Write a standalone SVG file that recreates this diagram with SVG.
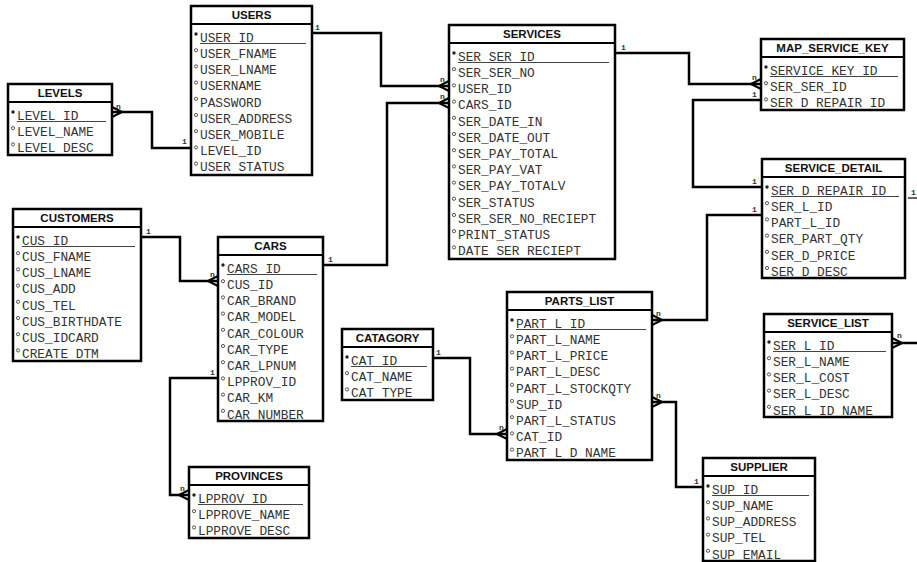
<svg xmlns="http://www.w3.org/2000/svg" width="917" height="562" viewBox="0 0 917 562">
<defs>
<style>
.box{fill:#fff;stroke:#000;stroke-width:2.5}
.hd{stroke:#000;stroke-width:2}
.t{font-family:"Liberation Sans",Arial,sans-serif;font-weight:bold;font-size:11.5px;fill:#111;text-anchor:middle}
.r{font-family:"Liberation Mono","Courier New",monospace;font-size:12.8px;fill:#333}
.ul{stroke:#444;stroke-width:1}
.pk{fill:#222}
.fk{fill:none;stroke:#444;stroke-width:0.9}
.c{fill:none;stroke:#000;stroke-width:2.5}
.cf{fill:none;stroke:#000;stroke-width:2}
.thin{fill:none;stroke:#000;stroke-width:1.2}
.l{font-family:"Liberation Mono","Courier New",monospace;font-size:8px;font-weight:bold;fill:#333}
</style>
</defs>
<rect width="917" height="562" fill="#fff"/>

<g id="connectors">
<path class="c" d="M112,112 H152 V148 H191"/>
<path class="cf" d="M112,107 L122,112 M112,117 L122,112 M112,112 H122"/>
<text class="l" x="116" y="109">n</text>
<text class="l" x="182" y="144">1</text>

<path class="c" d="M312,33 H381 V86 H449"/>
<path class="cf" d="M449,81 L439,86 M449,91 L439,86"/>
<text class="l" x="315" y="30">1</text>
<text class="l" x="440" y="82">n</text>

<path class="c" d="M323,265 H387 V103 H449"/>
<path class="cf" d="M449,98 L439,103 M449,108 L439,103"/>
<text class="l" x="328" y="262">1</text>
<text class="l" x="440" y="99">n</text>

<path class="c" d="M615,53 H689 V84 H761"/>
<path class="cf" d="M761,79 L751,84 M761,89 L751,84"/>
<text class="l" x="621" y="50">1</text>
<text class="l" x="752" y="80">n</text>

<path class="c" d="M761,100 H693 V187 H762"/>
<text class="l" x="752" y="97">1</text>
<text class="l" x="752" y="184">1</text>

<path class="c" d="M762,215 H707 V320 H652"/>
<path class="cf" d="M652,315 L662,320 M652,325 L662,320"/>
<text class="l" x="752" y="212">1</text>
<text class="l" x="656" y="316">n</text>

<path class="thin" d="M908,198 H917"/>
<text class="l" x="911" y="195">1</text>

<path class="c" d="M892,343 H917"/>
<path class="cf" d="M892,338 L902,343 M892,348 L902,343"/>
<text class="l" x="897" y="338">n</text>

<path class="c" d="M652,402 H676 V487 H703"/>
<path class="cf" d="M652,397 L662,402 M652,407 L662,402"/>
<text class="l" x="656" y="398">n</text>
<text class="l" x="694" y="484">1</text>

<path class="c" d="M433,358 H470 V434 H507"/>
<path class="cf" d="M507,429 L497,434 M507,439 L497,434"/>
<text class="l" x="436" y="355">1</text>
<text class="l" x="499" y="430">n</text>

<path class="c" d="M141,237 H180 V281 H218"/>
<path class="cf" d="M218,276 L208,281 M218,286 L208,281"/>
<text class="l" x="146" y="234">1</text>
<text class="l" x="210" y="277">n</text>

<path class="c" d="M218,378 H170 V495 H189"/>
<path class="cf" d="M189,490 L179,495 M189,500 L179,495"/>
<text class="l" x="210" y="375">1</text>
<text class="l" x="180" y="491">n</text>
</g>

<g id="USERS">
<rect class="box" x="191" y="6" width="121" height="169"/>
<line class="hd" x1="191" y1="24" x2="312" y2="24"/>
<text class="t" x="251.5" y="19">USERS</text>
<circle class="pk" cx="196" cy="34" r="1.7"/>
<text class="r" x="200" y="41.8">USER_ID</text>
<line class="ul" x1="200" y1="43.5" x2="306" y2="43.5"/>
<circle class="fk" cx="196" cy="50.2" r="1.6"/><text class="r" x="200" y="58">USER_FNAME</text>
<circle class="fk" cx="196" cy="66.4" r="1.6"/><text class="r" x="200" y="74.2">USER_LNAME</text>
<circle class="fk" cx="196" cy="82.6" r="1.6"/><text class="r" x="200" y="90.4">USERNAME</text>
<circle class="fk" cx="196" cy="98.8" r="1.6"/><text class="r" x="200" y="106.6">PASSWORD</text>
<circle class="fk" cx="196" cy="115" r="1.6"/><text class="r" x="200" y="122.8">USER_ADDRESS</text>
<circle class="fk" cx="196" cy="131.2" r="1.6"/><text class="r" x="200" y="139">USER_MOBILE</text>
<circle class="fk" cx="196" cy="147.4" r="1.6"/><text class="r" x="200" y="155.2">LEVEL_ID</text>
<circle class="fk" cx="196" cy="163.6" r="1.6"/><text class="r" x="200" y="171.4">USER STATUS</text>
</g>

<g id="LEVELS">
<rect class="box" x="8" y="84" width="104" height="71"/>
<line class="hd" x1="8" y1="102" x2="112" y2="102"/>
<text class="t" x="60" y="97">LEVELS</text>
<circle class="pk" cx="13" cy="112" r="1.7"/>
<text class="r" x="17" y="119.8">LEVEL_ID</text>
<line class="ul" x1="17" y1="121.5" x2="106" y2="121.5"/>
<circle class="fk" cx="13" cy="128.2" r="1.6"/><text class="r" x="17" y="136">LEVEL_NAME</text>
<circle class="fk" cx="13" cy="144.4" r="1.6"/><text class="r" x="17" y="152.2">LEVEL DESC</text>
</g>

<g id="SERVICES">
<rect class="box" x="449" y="25" width="166" height="234"/>
<line class="hd" x1="449" y1="43" x2="615" y2="43"/>
<text class="t" x="532" y="38">SERVICES</text>
<circle class="pk" cx="454" cy="53" r="1.7"/>
<text class="r" x="458" y="60.8">SER_SER_ID</text>
<line class="ul" x1="458" y1="62.5" x2="609" y2="62.5"/>
<circle class="fk" cx="454" cy="69.2" r="1.6"/><text class="r" x="458" y="77">SER_SER_NO</text>
<circle class="fk" cx="454" cy="85.4" r="1.6"/><text class="r" x="458" y="93.2">USER_ID</text>
<circle class="fk" cx="454" cy="101.6" r="1.6"/><text class="r" x="458" y="109.4">CARS_ID</text>
<circle class="fk" cx="454" cy="117.8" r="1.6"/><text class="r" x="458" y="125.6">SER_DATE_IN</text>
<circle class="fk" cx="454" cy="134" r="1.6"/><text class="r" x="458" y="141.8">SER_DATE_OUT</text>
<circle class="fk" cx="454" cy="150.2" r="1.6"/><text class="r" x="458" y="158">SER_PAY_TOTAL</text>
<circle class="fk" cx="454" cy="166.4" r="1.6"/><text class="r" x="458" y="174.2">SER_PAY_VAT</text>
<circle class="fk" cx="454" cy="182.6" r="1.6"/><text class="r" x="458" y="190.4">SER_PAY_TOTALV</text>
<circle class="fk" cx="454" cy="198.8" r="1.6"/><text class="r" x="458" y="206.6">SER_STATUS</text>
<circle class="fk" cx="454" cy="215" r="1.6"/><text class="r" x="458" y="222.8">SER_SER_NO_RECIEPT</text>
<circle class="fk" cx="454" cy="231.2" r="1.6"/><text class="r" x="458" y="239">PRINT_STATUS</text>
<circle class="fk" cx="454" cy="247.4" r="1.6"/><text class="r" x="458" y="255.2">DATE SER RECIEPT</text>
</g>

<g id="MAP_SERVICE_KEY">
<rect class="box" x="761" y="39" width="143" height="71"/>
<line class="hd" x1="761" y1="57" x2="904" y2="57"/>
<text class="t" x="832.5" y="52">MAP_SERVICE_KEY</text>
<circle class="pk" cx="766" cy="67" r="1.7"/>
<text class="r" x="770" y="74.8">SERVICE_KEY_ID</text>
<line class="ul" x1="770" y1="76.5" x2="898" y2="76.5"/>
<circle class="fk" cx="766" cy="83.2" r="1.6"/><text class="r" x="770" y="91">SER_SER_ID</text>
<circle class="fk" cx="766" cy="99.4" r="1.6"/><text class="r" x="770" y="107.2">SER D REPAIR ID</text>
</g>

<g id="SERVICE_DETAIL">
<rect class="box" x="762" y="159" width="143" height="119"/>
<line class="hd" x1="762" y1="177" x2="905" y2="177"/>
<text class="t" x="833.5" y="172">SERVICE_DETAIL</text>
<circle class="pk" cx="767" cy="187" r="1.7"/>
<text class="r" x="771" y="194.8">SER_D_REPAIR_ID</text>
<line class="ul" x1="771" y1="196.5" x2="899" y2="196.5"/>
<circle class="fk" cx="767" cy="203.2" r="1.6"/><text class="r" x="771" y="211">SER_L_ID</text>
<circle class="fk" cx="767" cy="219.4" r="1.6"/><text class="r" x="771" y="227.2">PART_L_ID</text>
<circle class="fk" cx="767" cy="235.6" r="1.6"/><text class="r" x="771" y="243.4">SER_PART_QTY</text>
<circle class="fk" cx="767" cy="251.8" r="1.6"/><text class="r" x="771" y="259.6">SER_D_PRICE</text>
<circle class="fk" cx="767" cy="268" r="1.6"/><text class="r" x="771" y="275.8">SER D DESC</text>
</g>

<g id="CUSTOMERS">
<rect class="box" x="13" y="209" width="128" height="152"/>
<line class="hd" x1="13" y1="227" x2="141" y2="227"/>
<text class="t" x="77" y="222">CUSTOMERS</text>
<circle class="pk" cx="18" cy="237" r="1.7"/>
<text class="r" x="22" y="244.8">CUS_ID</text>
<line class="ul" x1="22" y1="246.5" x2="135" y2="246.5"/>
<circle class="fk" cx="18" cy="253.2" r="1.6"/><text class="r" x="22" y="261">CUS_FNAME</text>
<circle class="fk" cx="18" cy="269.4" r="1.6"/><text class="r" x="22" y="277.2">CUS_LNAME</text>
<circle class="fk" cx="18" cy="285.6" r="1.6"/><text class="r" x="22" y="293.4">CUS_ADD</text>
<circle class="fk" cx="18" cy="301.8" r="1.6"/><text class="r" x="22" y="309.6">CUS_TEL</text>
<circle class="fk" cx="18" cy="318" r="1.6"/><text class="r" x="22" y="325.8">CUS_BIRTHDATE</text>
<circle class="fk" cx="18" cy="334.2" r="1.6"/><text class="r" x="22" y="342">CUS_IDCARD</text>
<circle class="fk" cx="18" cy="350.4" r="1.6"/><text class="r" x="22" y="358.2">CREATE DTM</text>
</g>

<g id="CARS">
<rect class="box" x="218" y="237" width="105" height="184"/>
<line class="hd" x1="218" y1="255" x2="323" y2="255"/>
<text class="t" x="270.5" y="250">CARS</text>
<circle class="pk" cx="223" cy="265" r="1.7"/>
<text class="r" x="227" y="272.8">CARS_ID</text>
<line class="ul" x1="227" y1="274.5" x2="317" y2="274.5"/>
<circle class="fk" cx="223" cy="281.2" r="1.6"/><text class="r" x="227" y="289">CUS_ID</text>
<circle class="fk" cx="223" cy="297.4" r="1.6"/><text class="r" x="227" y="305.2">CAR_BRAND</text>
<circle class="fk" cx="223" cy="313.6" r="1.6"/><text class="r" x="227" y="321.4">CAR_MODEL</text>
<circle class="fk" cx="223" cy="329.8" r="1.6"/><text class="r" x="227" y="337.6">CAR_COLOUR</text>
<circle class="fk" cx="223" cy="346" r="1.6"/><text class="r" x="227" y="353.8">CAR_TYPE</text>
<circle class="fk" cx="223" cy="362.2" r="1.6"/><text class="r" x="227" y="370">CAR_LPNUM</text>
<circle class="fk" cx="223" cy="378.4" r="1.6"/><text class="r" x="227" y="386.2">LPPROV_ID</text>
<circle class="fk" cx="223" cy="394.6" r="1.6"/><text class="r" x="227" y="402.4">CAR_KM</text>
<circle class="fk" cx="223" cy="410.8" r="1.6"/><text class="r" x="227" y="418.6">CAR NUMBER</text>
</g>

<g id="PROVINCES">
<rect class="box" x="189" y="467" width="120" height="71"/>
<line class="hd" x1="189" y1="485" x2="309" y2="485"/>
<text class="t" x="249" y="480">PROVINCES</text>
<circle class="pk" cx="194" cy="495" r="1.7"/>
<text class="r" x="198" y="502.8">LPPROV_ID</text>
<line class="ul" x1="198" y1="504.5" x2="303" y2="504.5"/>
<circle class="fk" cx="194" cy="511.2" r="1.6"/><text class="r" x="198" y="519">LPPROVE_NAME</text>
<circle class="fk" cx="194" cy="527.4" r="1.6"/><text class="r" x="198" y="535.2">LPPROVE DESC</text>
</g>

<g id="CATAGORY">
<rect class="box" x="342" y="329" width="91" height="71"/>
<line class="hd" x1="342" y1="347" x2="433" y2="347"/>
<text class="t" x="387.5" y="342">CATAGORY</text>
<circle class="pk" cx="347" cy="357" r="1.7"/>
<text class="r" x="351" y="364.8">CAT_ID</text>
<line class="ul" x1="351" y1="366.5" x2="427" y2="366.5"/>
<circle class="fk" cx="347" cy="373.2" r="1.6"/><text class="r" x="351" y="381">CAT_NAME</text>
<circle class="fk" cx="347" cy="389.4" r="1.6"/><text class="r" x="351" y="397.2">CAT TYPE</text>
</g>

<g id="PARTS_LIST">
<rect class="box" x="507" y="292" width="145" height="168"/>
<line class="hd" x1="507" y1="310" x2="652" y2="310"/>
<text class="t" x="579.5" y="305">PARTS_LIST</text>
<circle class="pk" cx="512" cy="320" r="1.7"/>
<text class="r" x="516" y="327.8">PART_L_ID</text>
<line class="ul" x1="516" y1="329.5" x2="646" y2="329.5"/>
<circle class="fk" cx="512" cy="336.2" r="1.6"/><text class="r" x="516" y="344">PART_L_NAME</text>
<circle class="fk" cx="512" cy="352.4" r="1.6"/><text class="r" x="516" y="360.2">PART_L_PRICE</text>
<circle class="fk" cx="512" cy="368.6" r="1.6"/><text class="r" x="516" y="376.4">PART_L_DESC</text>
<circle class="fk" cx="512" cy="384.8" r="1.6"/><text class="r" x="516" y="392.6">PART_L_STOCKQTY</text>
<circle class="fk" cx="512" cy="401" r="1.6"/><text class="r" x="516" y="408.8">SUP_ID</text>
<circle class="fk" cx="512" cy="417.2" r="1.6"/><text class="r" x="516" y="425">PART_L_STATUS</text>
<circle class="fk" cx="512" cy="433.4" r="1.6"/><text class="r" x="516" y="441.2">CAT_ID</text>
<circle class="fk" cx="512" cy="449.6" r="1.6"/><text class="r" x="516" y="457.4">PART L D NAME</text>
</g>

<g id="SERVICE_LIST">
<rect class="box" x="764" y="314" width="128" height="103"/>
<line class="hd" x1="764" y1="332" x2="892" y2="332"/>
<text class="t" x="828" y="327">SERVICE_LIST</text>
<circle class="pk" cx="769" cy="342" r="1.7"/>
<text class="r" x="773" y="349.8">SER_L_ID</text>
<line class="ul" x1="773" y1="351.5" x2="886" y2="351.5"/>
<circle class="fk" cx="769" cy="358.2" r="1.6"/><text class="r" x="773" y="366">SER_L_NAME</text>
<circle class="fk" cx="769" cy="374.4" r="1.6"/><text class="r" x="773" y="382.2">SER_L_COST</text>
<circle class="fk" cx="769" cy="390.6" r="1.6"/><text class="r" x="773" y="398.4">SER_L_DESC</text>
<circle class="fk" cx="769" cy="406.8" r="1.6"/><text class="r" x="773" y="414.6">SER L ID NAME</text>
</g>

<g id="SUPPLIER">
<rect class="box" x="703" y="458" width="112" height="103"/>
<line class="hd" x1="703" y1="476" x2="815" y2="476"/>
<text class="t" x="759" y="471">SUPPLIER</text>
<circle class="pk" cx="708" cy="486" r="1.7"/>
<text class="r" x="712" y="493.8">SUP_ID</text>
<line class="ul" x1="712" y1="495.5" x2="809" y2="495.5"/>
<circle class="fk" cx="708" cy="502.2" r="1.6"/><text class="r" x="712" y="510">SUP_NAME</text>
<circle class="fk" cx="708" cy="518.4" r="1.6"/><text class="r" x="712" y="526.2">SUP_ADDRESS</text>
<circle class="fk" cx="708" cy="534.6" r="1.6"/><text class="r" x="712" y="542.4">SUP_TEL</text>
<circle class="fk" cx="708" cy="550.8" r="1.6"/><text class="r" x="712" y="558.6">SUP EMAIL</text>
</g>
</svg>
